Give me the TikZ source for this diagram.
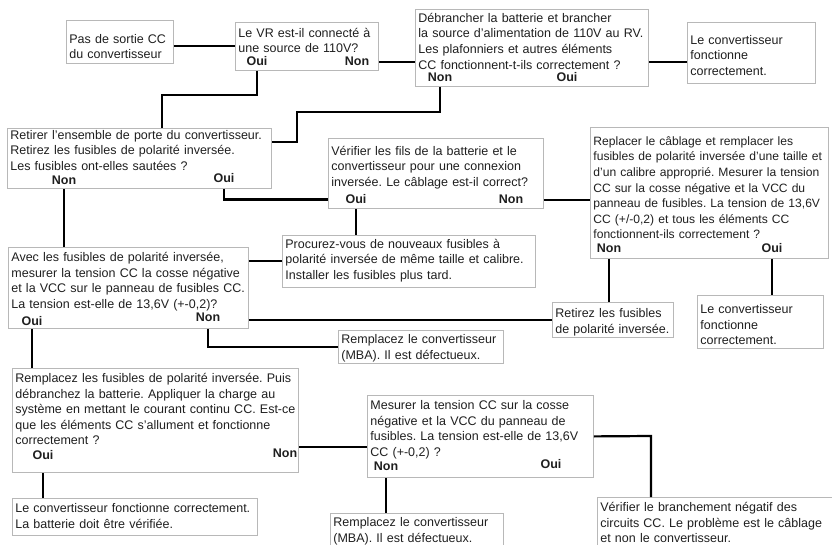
\documentclass[tikz,border=0pt]{standalone}
\usepackage{fontspec}
\setmainfont{Liberation Sans}
\usepackage{tikz}
\tikzset{box/.style={draw=black!28,line width=0.8pt,anchor=north west,align=left,inner xsep=3pt,inner ysep=3pt,text=black!88,font=\fontsize{12.5}{15.6}\selectfont\frenchspacing},
  wh/.style n args={3}{/utils/exec={\pgfmathsetmacro\bw{#1-6}\pgfmathsetmacro\bd{#2-6-#3}},text width=\bw pt,text height=#3pt,text depth=\bd pt},
  ans/.style={anchor=base,inner sep=1pt,text=black!88,font=\fontsize{12.5}{15}\selectfont\bfseries},
  wire/.style={line width=2.2pt}}

\begin{document}
\begin{tikzpicture}[x=1pt,y=-1pt]
\useasboundingbox (0,0) rectangle (832,545);
\node[box,wh={107}{43}{20}] (b1) at (66,20) {Pas de sortie CC\\du convertisseur};
\node[box,wh={143}{48}{12}] (b2) at (235,22) {Le VR est-il connecté à\\une source de 110V?};
\node[ans] (b2y) at (257,66) {Oui}; \node[ans] (b2n) at (357,66) {Non};
\node[box,wh={233}{77}{10}] (b3) at (415,9) {Débrancher la batterie et brancher\\la source d’alimentation de 110V au RV.\\Les plafonniers et autres éléments\\CC fonctionnent-t-ils correctement ?};
\node[ans] (b3n) at (440,82) {Non}; \node[ans] (b3y) at (567,82) {Oui};
\node[box,wh={128}{61}{19}] (b4) at (687,22) {Le convertisseur\\fonctionne\\correctement.};
\node[box,wh={264}{60}{8}] (b5) at (7,128) {Retirer l’ensemble de porte du convertisseur.\\Retirez les fusibles de polarité inversée.\\Les fusibles ont-elles sautées ?};
\node[ans] (b5n) at (64,185) {Non}; \node[ans] (b5y) at (224,183) {Oui};
\node[box,wh={215}{70}{14}] (b6) at (328,138) {Vérifier les fils de la batterie et le\\convertisseur pour une connexion\\inversée. Le câblage est-il correct?};
\node[ans] (b6y) at (356,204) {Oui}; \node[ans] (b6n) at (511,204) {Non};
\node[box,wh={238}{131}{15},font=\fontsize{12.1}{15.6}\selectfont\frenchspacing] (b7) at (590,127) {Replacer le câblage et remplacer les\\fusibles de polarité inversée d’une taille et\\d’un calibre approprié. Mesurer la tension\\CC sur la cosse négative et la VCC du\\panneau de fusibles. La tension de 13,6V\\CC (+/-0,2) et tous les éléments CC\\fonctionnent-ils correctement ?};
\node[ans] (b7n) at (609,253) {Non}; \node[ans] (b7y) at (772,253) {Oui};
\node[box,wh={253}{52}{10}] (b8) at (282,235) {Procurez-vous de nouveaux fusibles à\\polarité inversée de même taille et calibre.\\Installer les fusibles plus tard.};
\node[box,wh={240}{81}{11}] (b9) at (8,247) {Avec les fusibles de polarité inversée,\\mesurer la tension CC la cosse négative\\et la VCC sur le panneau de fusibles CC.\\La tension est-elle de 13,6V (+-0,2)?};
\node[ans] (b9y) at (32,325) {Oui}; \node[ans] (b9n) at (208,321) {Non};
\node[box,wh={121}{35}{12}] (b10) at (552,302) {Retirez les fusibles\\de polarité inversée.};
\node[box,wh={126}{53}{15}] (b11) at (697,295) {Le convertisseur\\fonctionne\\correctement.};
\node[box,wh={165}{33}{10}] (b12) at (338,330) {Remplacez le convertisseur\\(MBA). Il est défectueux.};
\node[box,wh={286}{104}{11}] (b13) at (12,368) {Remplacez les fusibles de polarité inversée. Puis\\débranchez la batterie. Appliquer la charge au\\système en mettant le courant continu CC. Est-ce\\que les éléments CC s’allument et fonctionne\\correctement ?};
\node[ans] (b13y) at (43,459) {Oui}; \node[ans] (b13n) at (285,457) {Non};
\node[box,wh={245}{37}{11}] (b14) at (12,498) {Le convertisseur fonctionne correctement.\\La batterie doit être vérifiée.};
\node[box,wh={226}{82}{11}] (b15) at (367,395) {Mesurer la tension CC sur la cosse\\négative et la VCC du panneau de\\fusibles. La tension est-elle de 13,6V\\CC (+-0,2) ?};
\node[ans] (b15n) at (386,470) {Non}; \node[ans] (b15y) at (551,468) {Oui};
\node[box,wh={173}{40}{10}] (b16) at (330,513) {Remplacez le convertisseur\\(MBA). Il est défectueux.};
\node[box,wh={240}{55}{11}] (b17) at (597,497) {Vérifier le branchement négatif des\\circuits CC. Le problème est le câblage\\et non le convertisseur.};
\coordinate (k1) at (162,95); \coordinate (k2) at (297,112); \coordinate (k3) at (297,142); \coordinate (k4) at (330,447); \coordinate (k5) at (651,436);
\draw[wire] (b2.west -| b1.east) -- (b2.west);
\draw[wire] (b2n -| b2.east) -- (b2n -| b3.west); \draw[wire] (b3.east |- b2n) -- (b4.west |- b2n);
\draw[wire] (b2y |- b2.south) |- (k1) -- (k1 |- b5.north);
\draw[wire] (b3n |- b3.south) |- (k2) -- (k3) -- (k3 -| b5.east);
\draw[wire] (b5y |- b5.south) |- (b6y -| b6.west); \draw[wire] (b5n |- b5.south) -- (b5n |- b9.north);
\draw[wire] (b6y |- b6.south) -- (b6y |- b8.north); \draw[wire] (b6n -| b6.east) -- (b6n -| b7.west);
\draw[wire] (b8.west -| b9.east) -- (b8.west); \draw[wire] (b10.west -| b9.east) -- (b10.west);
\draw[wire] (b9n |- b9.south) |- (b12.west); \draw[wire] (b9y |- b9.south) -- (b9y |- b13.north);
\draw[wire] (b7n |- b7.south) -- (b7n |- b10.north); \draw[wire] (b7y |- b7.south) -- (b7y |- b11.north);
\draw[wire] (k4 -| b13.east) -- (k4 -| b15.west); \draw[wire] (b13y |- b13.south) -- (b13y |- b14.north);
\draw[wire] (b15n |- b15.south) -- (b15n |- b16.north); \draw[wire] (b15.east) -- (k5) -- (k5 |- b17.north);
\end{tikzpicture}
\end{document}
